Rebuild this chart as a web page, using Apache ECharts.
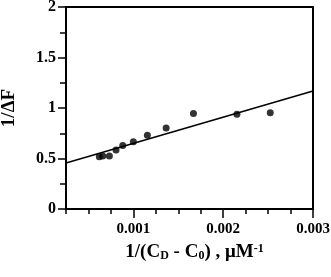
<!DOCTYPE html>
<html><head><meta charset="utf-8">
<script src="https://cdn.jsdelivr.net/npm/echarts@6/dist/echarts.min.js"></script>
<style>html,body{margin:0;padding:0;background:#fff}#c{width:331px;height:277px}</style>
</head><body><div id="c"></div>
<script>
const xValues = [0.000621, 0.000659, 0.000733, 0.000807, 0.000882, 0.001, 0.001156, 0.001365, 0.001669, 0.002153, 0.002524];
const yValues = [0.517, 0.524, 0.524, 0.583, 0.629, 0.667, 0.731, 0.803, 0.946, 0.939, 0.952];
const fitX = [0.00025, 0.003];
const fitY = [0.455, 1.168];
const yTicks = [0, 0.5, 1, 1.5, 2];
const xTickLabels = [0.001, 0.002, 0.003];

const font = 'Liberation Serif';
const xMin = 0.00025, xMax = 0.003;
const chart = echarts.init(document.getElementById('c'), null, {renderer: 'canvas'});
chart.setOption({
  animation: false,
  grid: {left: 66, right: 18, top: 7, bottom: 68, show: true, borderColor: '#000', borderWidth: 2, containLabel: false, outerBoundsMode: 'none'},
  xAxis: [{
    type: 'value', min: xMin, max: xMax, interval: 0.00025,
    axisLine: {lineStyle: {color: '#000', width: 2}},
    axisTick: {length: 5, lineStyle: {color: '#000', width: 1.5}},
    splitLine: {show: false},
    axisLabel: {
      customValues: xTickLabels,
      color: '#000', fontFamily: font, fontWeight: 'bold', fontSize: 15, margin: 13,
      formatter: function (v) { return v.toFixed(3); }
    },
    name: '{n|1/(C}{sub|D}{n| - C}{sub|0}{n|) , μM}{sup|-1}',
    nameLocation: 'middle', nameGap: 34,
    nameTextStyle: {
      padding: [0, 0, 0, 10],
      rich: {
        n: {fontFamily: font, fontWeight: 'bold', fontSize: 19, color: '#000'},
        sub: {fontFamily: font, fontWeight: 'bold', fontSize: 12, color: '#000', verticalAlign: 'bottom', padding: [7, 0, 0, 0]},
        sup: {fontFamily: font, fontWeight: 'bold', fontSize: 12, color: '#000', verticalAlign: 'top', padding: [0, 0, 7, 0]}
      }
    }
  }, {
    type: 'value', min: xMin, max: xMax, position: 'bottom', gridIndex: 0,
    axisLine: {show: false},
    axisTick: {customValues: xTickLabels, length: 9, lineStyle: {color: '#000', width: 1.5}},
    axisLabel: {show: false},
    splitLine: {show: false}
  }],
  yAxis: {
    type: 'value', min: 0, max: 2, interval: 0.5,
    axisLine: {lineStyle: {color: '#000', width: 2}},
    axisTick: {length: 8, lineStyle: {color: '#000', width: 1.5}},
    minorTick: {show: true, splitNumber: 2, length: 6, lineStyle: {color: '#000', width: 1.5}},
    splitLine: {show: false},
    axisLabel: {
      color: '#000', fontFamily: font, fontWeight: 'bold', fontSize: 16, margin: 10,
      formatter: function (v) { for (const t of yTicks) { if (Math.abs(v - t) < 1e-9) return String(t); } return ''; }
    },
    name: '1/ΔF', nameLocation: 'middle', nameGap: 47,
    nameTextStyle: {fontFamily: font, fontWeight: 'bold', fontSize: 19, color: '#000'}
  },
  series: [
    {type: 'line', data: fitX.map((x, i) => [x, fitY[i]]), symbol: 'none', lineStyle: {color: '#000', width: 1.5}, silent: true},
    {type: 'scatter', data: xValues.map((x, i) => [x, yValues[i]]), symbol: 'circle', symbolSize: 7, itemStyle: {color: '#000'}}
  ]
});
</script></body></html>
